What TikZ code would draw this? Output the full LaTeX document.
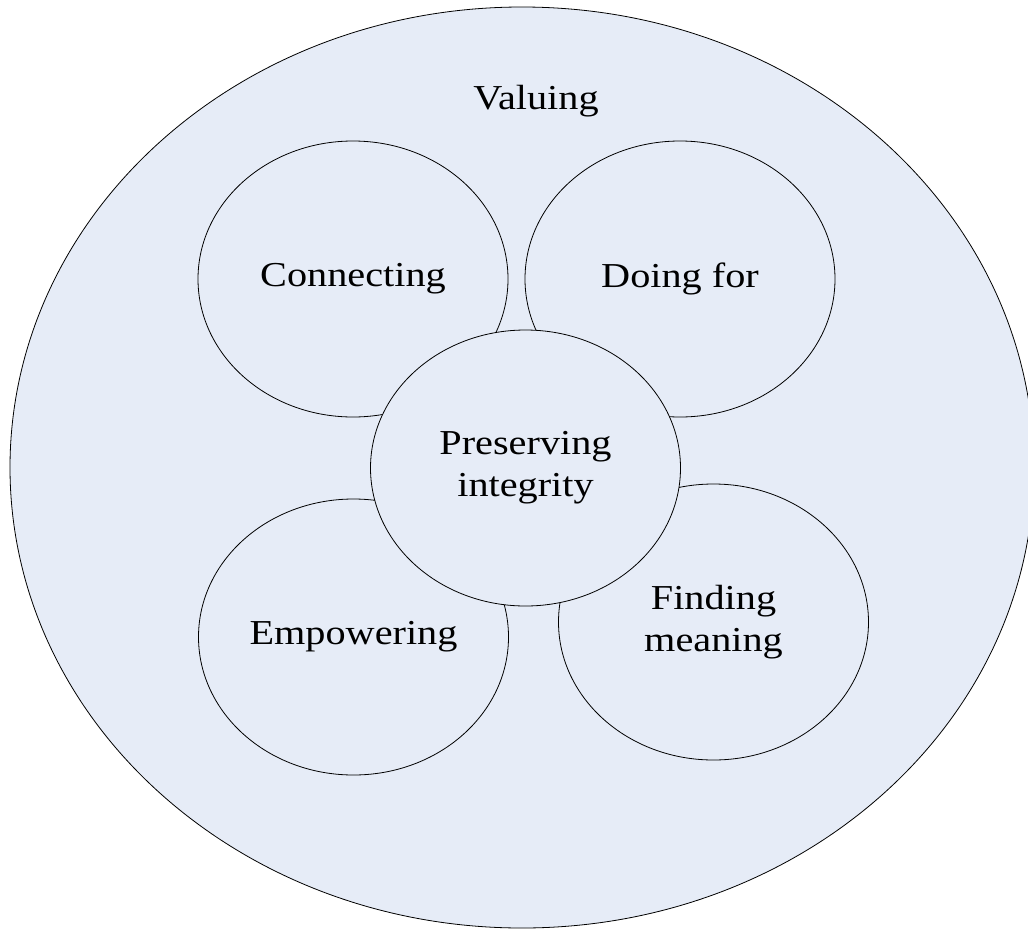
\documentclass[tikz,border=0pt]{standalone}
\usepackage{fontspec}
\setmainfont{Liberation Serif}[FakeStretch=1.15]
\usetikzlibrary{shapes.geometric}
\definecolor{paleblue}{HTML}{E6ECF7}
\begin{document}
\begin{tikzpicture}[x=1pt,y=-1pt,
  bubble/.style={ellipse, draw=black, line width=0.8pt, fill=paleblue,
    minimum width=310pt, minimum height=276pt, inner sep=0pt,
    align=center, font=\fontsize{35}{42}\selectfont},
  label text/.style={font=\fontsize{35}{42}\selectfont}]
  \useasboundingbox (0,0) rectangle (1028,929);
  \clip (0,0) rectangle (1028,929);
  % outer domain
  \node (valuingarea) [ellipse, draw=black, line width=0.8pt, fill=paleblue,
    minimum width=1024pt, minimum height=921pt, inner sep=0pt] at (522,467.5) {};
  \node (valuing) [label text] at (536,101) {Valuing};
  % surrounding themes
  \node (connecting) [bubble] at (353,279) {Connecting};
  \node (doingfor) [bubble] at (680,279) {Doing for};
  \node (empowering) [bubble] at (353.5,637) {Empowering};
  \node (finding) [bubble] at (713.5,622) {Finding\\meaning};
  % central theme drawn last so it overlaps the others
  \node (integrity) [bubble] at (525.5,468) {Preserving\\integrity};
\end{tikzpicture}
\end{document}
